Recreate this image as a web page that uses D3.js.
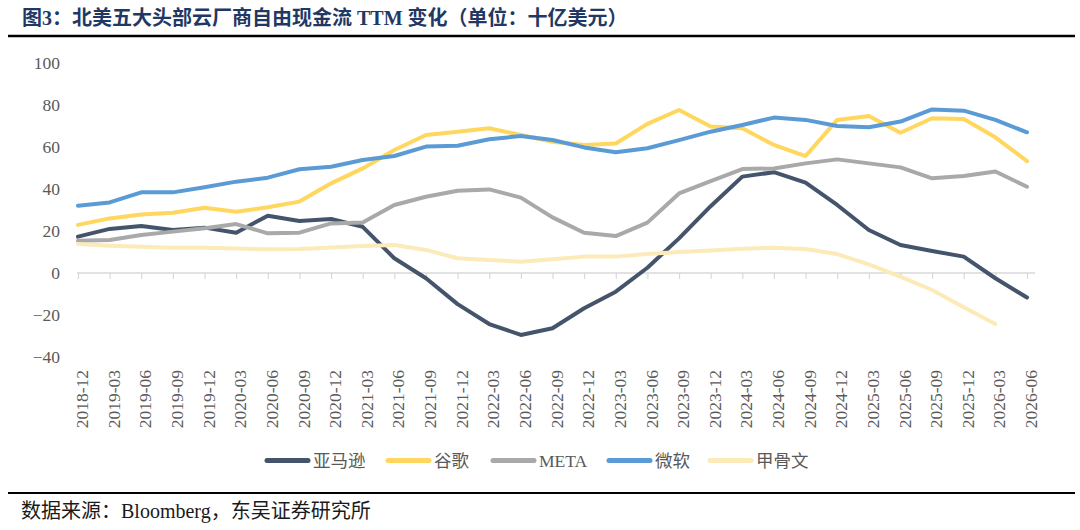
<!DOCTYPE html>
<html>
<head>
<meta charset="utf-8">
<script src="https://cdn.jsdelivr.net/npm/d3@7"></script>
<style>
  html, body { margin: 0; padding: 0; background: #fff; }
  svg { display: block; }
</style>
</head>
<body>
<svg id="chart" width="1080" height="530"></svg>
<script>
const categories = ["2018-12","2019-03","2019-06","2019-09","2019-12","2020-03","2020-06","2020-09","2020-12","2021-03","2021-06","2021-09","2021-12","2022-03","2022-06","2022-09","2022-12","2023-03","2023-06","2023-09","2023-12","2024-03","2024-06","2024-09","2024-12","2025-03","2025-06","2025-09","2025-12","2026-03","2026-06"];

const amazon = [17.3,21,22.4,20.5,21.6,19.2,27.3,24.8,25.7,22,7,-2.5,-14.8,-24.3,-29.5,-26.3,-16.8,-8.9,2.5,16.5,31.8,45.9,48,43,32.4,20.5,13.3,10.5,7.8,-2.5,-11.7];
const google = [22.9,26,27.9,28.7,31.1,29.2,31.3,34,42.7,49.8,58.6,65.7,67.3,68.9,65.7,62.5,61,61.7,71,77.6,69.8,68.9,61,55.7,72.9,74.8,66.8,73.7,73.3,64.6,53.3];
const meta = [15.4,15.7,18.1,19.7,21.3,23.3,18.9,19.2,23.6,24,32.4,36.3,39.2,39.8,35.9,26.5,19.2,17.6,24,37.9,43.8,49.5,49.8,52.2,54.1,52.2,50.3,45.1,46.2,48.3,41.1];
const microsoft = [32,33.6,38.4,38.4,40.8,43.5,45.4,49.4,50.6,53.8,55.7,60.2,60.6,63.7,65.2,63.3,59.8,57.5,59.4,63.3,67.3,70.5,74,72.9,70,69.4,72.1,77.9,77.3,72.9,67];
const oracle = [13.8,13,12.5,12,12,11.7,11.3,11.4,12.2,12.9,13.3,11,7,6.2,5.4,6.5,7.8,7.8,9,10,10.7,11.6,12,11.4,9,4.1,-1.7,-8.1,-16.3,-24.3,null];

const seriesNames = ["亚马逊","谷歌","META","微软","甲骨文"];
const seriesValues = [amazon, google, meta, microsoft, oracle];
const seriesColors = ["#44546A","#FFD75E","#A9A9A9","#5B9BD5","#FCEAB8"];
const yTicks = [-40,-20,0,20,40,60,80,100];

const titleText = "图3：北美五大头部云厂商自由现金流 TTM 变化（单位：十亿美元）";
const sourceText = "数据来源：Bloomberg，东吴证券研究所";

const svg = d3.select("#chart");
const FONT = "'Liberation Serif','Times New Roman','Noto Sans CJK SC',serif";

const x = d3.scalePoint().domain(categories).range([78, 1027]);
const y = d3.scaleLinear().domain([-40, 100]).range([357, 63]);

// Title
svg.append("text")
  .attr("x", 22).attr("y", 25)
  .attr("font-family", FONT)
  .attr("font-size", 20).attr("font-weight", "bold")
  .attr("fill", "#1F3864")
  .text(titleText);
svg.append("line")
  .attr("x1", 8).attr("x2", 1075).attr("y1", 36).attr("y2", 36)
  .attr("stroke", "#000").attr("stroke-width", 2.5);

// Y axis labels
const yAxis = d3.axisLeft(y).tickValues(yTicks).tickSize(0).tickPadding(0);
const gy = svg.append("g").attr("transform", "translate(60,0)").call(yAxis);
gy.select(".domain").remove();
gy.selectAll("text")
  .attr("font-family", FONT).attr("font-size", 17.5)
  .attr("fill", "#595959");

// X axis at zero
const xAxis = d3.axisBottom(x).tickSize(6).tickFormat("");
const gx = svg.append("g").attr("transform", `translate(0,${y(0)})`).call(xAxis);
gx.select(".domain").attr("d", `M${x(categories[0]) - 1},0H${x(categories[categories.length - 1]) + 8}`)
  .attr("stroke", "#D9D9D9").attr("stroke-width", 1.5);
gx.selectAll(".tick line").attr("stroke", "#D9D9D9").attr("stroke-width", 1.2);

// X labels (rotated)
svg.append("g").selectAll("text")
  .data(categories).join("text")
  .attr("transform", d => `translate(${x(d) + 4},370) rotate(-90)`)
  .attr("text-anchor", "end")
  .attr("dy", "0.35em")
  .attr("font-family", FONT).attr("font-size", 17.5)
  .attr("fill", "#595959")
  .text(d => d);

// Lines
const line = d3.line()
  .defined(d => d.v !== null)
  .x(d => x(d.c))
  .y(d => y(d.v));

seriesValues.forEach((vals, i) => {
  const data = categories.map((c, j) => ({ c, v: vals[j] }));
  svg.append("path")
    .datum(data)
    .attr("d", line)
    .attr("fill", "none")
    .attr("stroke", seriesColors[i])
    .attr("stroke-width", 4)
    .attr("stroke-linejoin", "round")
    .attr("stroke-linecap", "round");
});

// Legend
const legendX = [267, 388, 493, 609, 710];
const lg = svg.append("g");
seriesNames.forEach((name, i) => {
  lg.append("line")
    .attr("x1", legendX[i]).attr("x2", legendX[i] + 41)
    .attr("y1", 460.5).attr("y2", 460.5)
    .attr("stroke", seriesColors[i]).attr("stroke-width", 5)
    .attr("stroke-linecap", "round");
  lg.append("text")
    .attr("x", legendX[i] + 46).attr("y", 460.5)
    .attr("dy", "0.35em")
    .attr("font-family", FONT).attr("font-size", 17.5)
    .attr("fill", "#595959")
    .text(name);
});

// Bottom rule and source
svg.append("line")
  .attr("x1", 8).attr("x2", 1075).attr("y1", 493).attr("y2", 493)
  .attr("stroke", "#000").attr("stroke-width", 2);
svg.append("text")
  .attr("x", 21).attr("y", 518)
  .attr("font-family", FONT).attr("font-size", 20)
  .attr("fill", "#1a1a1a")
  .text(sourceText);
</script>
</body>
</html>
